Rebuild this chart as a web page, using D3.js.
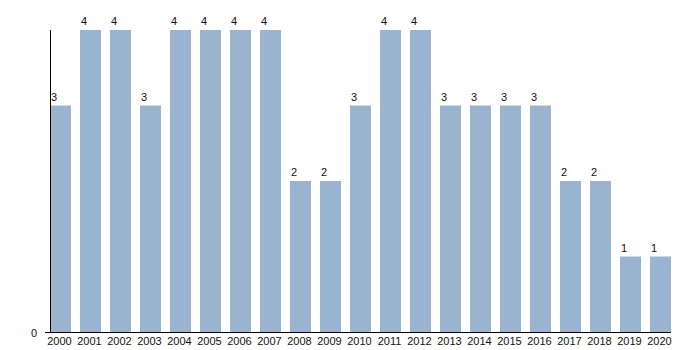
<!DOCTYPE html>
<meta charset="UTF-8">
<script src="https://d3js.org/d3.v7.min.js"></script>
<style>
  body { margin: 0; background: #fff; }
  text { font-family: "Liberation Sans", Arial, sans-serif; font-size: 11px; fill: #111; }
</style>
<body>
<div id="chart"></div>
<script>
var years = ["2000","2001","2002","2003","2004","2005","2006","2007","2008","2009","2010",
             "2011","2012","2013","2014","2015","2016","2017","2018","2019","2020"];
var counts = [3,4,4,3,4,4,4,4,2,2,3,4,4,3,3,3,3,2,2,1,1];
var yTicks = [0];

var width = 700, height = 350;
var plotLeft = 50, plotRight = 671, plotTop = 30, plotBottom = 332;

var svg = d3.select("#chart").append("svg")
    .attr("width", width)
    .attr("height", height);

var x = d3.scaleBand()
  .domain(years)
  .range([plotLeft, plotRight])
  .paddingInner(0.3)
  .paddingOuter(0);

var y = d3.scaleLinear()
  .domain([0, 4])
  .range([plotBottom, plotTop]);

// bars
svg.append("g")
  .selectAll("rect")
  .data(years)
  .enter()
  .append("rect")
    .attr("x", function(d) { return x(d); })
    .attr("y", function(d, i) { return y(counts[i]); })
    .attr("width", x.bandwidth())
    .attr("height", function(d, i) { return y(0) - y(counts[i]); })
    .attr("fill", "#9ab3ce");

// value labels
svg.append("g")
  .selectAll("text")
  .data(years)
  .enter()
  .append("text")
    .attr("x", function(d) { return x(d) + 1; })
    .attr("y", function(d, i) { return y(counts[i]) - 5; })
    .text(function(d, i) { return counts[i]; });

// axis lines
svg.append("line")
  .attr("x1", plotLeft + 0.5).attr("x2", plotLeft + 0.5)
  .attr("y1", plotTop).attr("y2", plotBottom)
  .attr("stroke", "#000");
svg.append("line")
  .attr("x1", 45).attr("x2", plotRight)
  .attr("y1", plotBottom + 0.5).attr("y2", plotBottom + 0.5)
  .attr("stroke", "#000");

// y tick label
svg.append("g")
  .selectAll("text")
  .data(yTicks)
  .enter()
  .append("text")
    .attr("x", 37)
    .attr("y", function(d) { return y(d) + 5; })
    .attr("text-anchor", "end")
    .text(function(d) { return d; });

// year labels
svg.append("g")
  .selectAll("text")
  .data(years)
  .enter()
  .append("text")
    .attr("x", function(d) { return x(d) + x.bandwidth() / 2 - 1; })
    .attr("y", 345)
    .attr("text-anchor", "middle")
    .text(function(d) { return d; });
</script>
</body>
